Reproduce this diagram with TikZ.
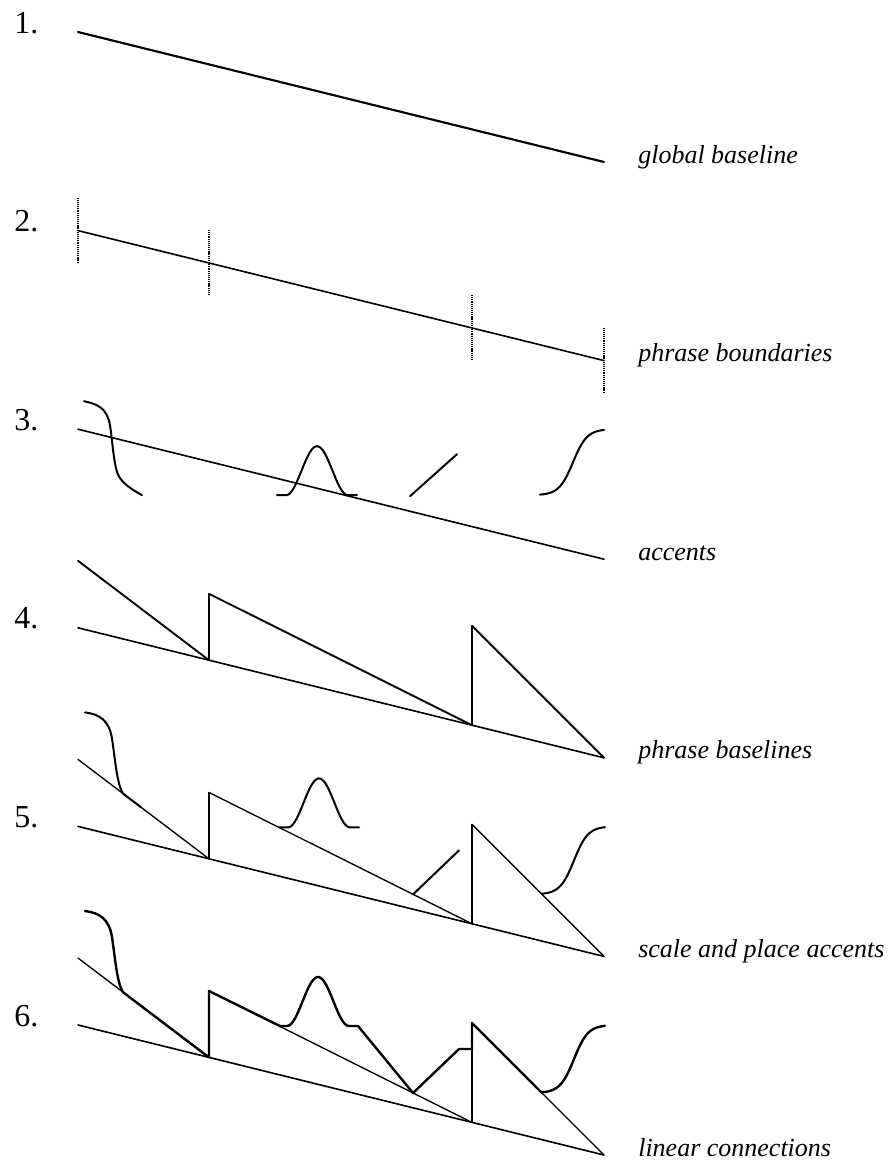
\documentclass[tikz,border=0pt]{standalone}
\usepackage{fontspec}
\setmainfont{Liberation Serif}
\usetikzlibrary{calc}
\newcommand\phrasepts{%
  \coordinate (B0) at (78,0);   \coordinate (B1) at (209,32.4);
  \coordinate (B2) at (472,97.4); \coordinate (B3) at (604,130);
  \coordinate (T0) at (78,-67); \coordinate (T1) at (209,-34);
  \coordinate (T2) at (472,-2);}
\tikzset{
    every picture/.style={line cap=round,line join=round},
    globline/.style={line width=1.2pt},
    firstline/.style={line width=1.6pt},
    phrline/.style={line width=1.4pt},
    thinphr/.style={line width=1pt},
    bndline/.style={line width=0.8pt},
    bndtick/.style={line width=1.9pt,line cap=butt,dash pattern=on 0.9pt off 0.7pt},
    accline/.style={line width=1.5pt},
    contour/.style={line width=1.8pt},
    numlabel/.style={anchor=base west,inner sep=0pt,font=\fontsize{24}{26}\selectfont},
    steplabel/.style={anchor=base west,inner sep=0pt,font=\fontsize{19.5}{22}\selectfont\itshape}
}
\begin{document}
\begin{tikzpicture}[x=0.75pt,y=-0.75pt]
  \useasboundingbox (0,0) rectangle (891,1160);
  \foreach \lbl [count=\k] in {global baseline,phrase boundaries,accents,
      phrase baselines,scale and place accents,linear connections}{
    \node[numlabel] (num\k) at (14,{33+198.6*(\k-1)}) {\k.};
    \node[steplabel] (lbl\k) at (638,{32+198.6*(\k-1)+131}) {\lbl};}
  % 1. global baseline
  \begin{scope}[shift={(0,32)}]
    \phrasepts
    \draw[firstline] (B0) -- (B3);
  \end{scope}
  % 2. phrase boundaries
  \begin{scope}[shift={(0,230.6)}]
    \phrasepts
    \draw[globline] (B0) -- (B3);
    \foreach \c in {B0,B1,B2,B3}
      \draw[bndtick] ($(\c)+(0,-33)$) -- ($(\c)+(0,33)$);
  \end{scope}
  % 3. accents
  \begin{scope}[shift={(0,429.2)}]
    \phrasepts
    \draw[globline] (B0) -- (B3);
    \draw[accline] (84,-28) .. controls (98,-25) and (107,-21) .. (110,-4)
      .. controls (113,16) and (114,41) .. (120,49)
      .. controls (126,57) and (135,62) .. (142,66);
    \draw[accline] (277,66) -- plot[domain=286:348,samples=41,smooth]
      (\x,{66-24.5*(1+cos(180*(\x-317)/31))}) -- (357,66);
    \draw[accline] (410,67) -- (457,25);
    \draw[accline] plot[domain=540:604,samples=41,smooth]
      (\x,{66-66/(1+exp(-(\x-573)/7))});
  \end{scope}
  % 4. phrase baselines
  \begin{scope}[shift={(0,627.8)}]
    \phrasepts
    \draw[globline] (B0) -- (B3);
    \draw[phrline] (T0) -- (B1) (T1) -- (B2) (T2) -- (B3);
    \draw[bndline] (B1) -- (T1) (B2) -- (T2);
  \end{scope}
  % 5. scale and place accents
  \begin{scope}[shift={(0,826.4)}]
    \phrasepts
    \draw[globline] (B0) -- (B3);
    \draw[thinphr] (T0) -- (B1) (T1) -- (B2) (T2) -- (B3);
    \draw[bndline] (B1) -- (T1) (B2) -- (T2);
    \draw[accline] (85,-114) .. controls (100,-112) and (109,-106) .. (112,-88)
      .. controls (115,-68) and (117,-42) .. (123,-32.8) -- (141,-19.2);
    \draw[accline] (279,1) -- plot[domain=288:350,samples=41,smooth]
      (\x,{1-24.5*(1+cos(180*(\x-319)/31))}) -- (359,1);
    \draw[accline] (413,68) -- (459,24);
    \draw[accline] plot[domain=542:605,samples=41,smooth]
      (\x,{68-68/(1+exp(-(\x-574)/7))});
  \end{scope}
  % 6. linear connections
  \begin{scope}[shift={(0,1025)}]
    \phrasepts
    \draw[globline] (B0) -- (B3);
    \draw[thinphr] (T0) -- (B1) (T1) -- (B2) (T2) -- (B3);
    \draw[bndline] (B2) -- (T2);
    \draw[contour] (85,-114) .. controls (100,-112) and (109,-106) .. (112,-88)
      .. controls (115,-68) and (117,-42) .. (123,-32.8) -- (B1) -- (T1)
      -- (280,1) -- plot[domain=287:349,samples=41,smooth]
         (\x,{1-24.5*(1+cos(180*(\x-318)/31))})
      -- (358,1) -- (413,68) -- (459,24) -- (472,24) -- (T2) -- (542,68)
      -- plot[domain=542:605,samples=41,smooth]
         (\x,{68-68/(1+exp(-(\x-574)/7))});
  \end{scope}
\end{tikzpicture}
\end{document}
